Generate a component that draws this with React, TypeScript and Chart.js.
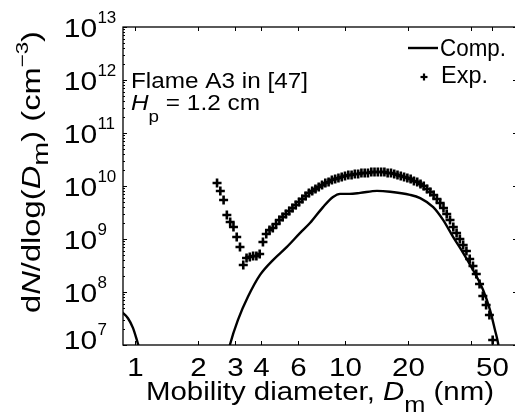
import React, { useEffect, useRef } from 'react';
import { Chart, registerables } from 'chart.js';

Chart.register(...registerables);

const FONT = '"Liberation Sans", Arial, Helvetica, sans-serif';

// Experimental data (SMPS channels), mobility diameter in nm
const expDiameters = [
  2.459, 2.549, 2.642, 2.738, 2.84, 2.944, 3.051, 3.162, 3.278, 3.398,
  3.522, 3.652, 3.785, 3.924, 4.067, 4.217, 4.371, 4.531, 4.697, 4.87,
  5.048, 5.233, 5.425, 5.623, 5.829, 6.043, 6.264, 6.494, 6.732, 6.978,
  7.234, 7.499, 7.774, 8.058, 8.354, 8.66, 8.977, 9.306, 9.647, 10.0,
  10.37, 10.75, 11.14, 11.55, 11.97, 12.41, 12.86, 13.34, 13.82, 14.33,
  14.86, 15.4, 15.96, 16.55, 17.15, 17.78, 18.43, 19.11, 19.81, 20.54,
  21.29, 22.07, 22.88, 23.71, 24.58, 25.48, 26.42, 27.38, 28.39, 29.43,
  30.5, 31.62, 32.78, 33.98, 35.22, 36.52, 37.85, 39.24, 40.67, 42.17,
  43.71, 45.31, 46.97, 48.7, 50.48,
];
const expConcentrations = [
  1.14e10, 8.05e9, 5.44e9, 2.84e9, 2.09e9, 1.68e9, 1.09e9, 7.06e8, 3.23e8, 4.38e8,
  4.57e8, 4.78e8, 4.78e8, 5.21e8, 8.78e8, 1.24e9, 1.48e9, 1.61e9, 1.92e9, 2.28e9,
  2.6e9, 2.96e9, 3.37e9, 3.85e9, 4.38e9, 4.99e9, 5.69e9, 6.48e9, 7.38e9, 8.05e9,
  8.78e9, 9.57e9, 1.04e10, 1.14e10, 1.19e10, 1.3e10, 1.36e10, 1.42e10, 1.48e10, 1.55e10,
  1.61e10, 1.61e10, 1.68e10, 1.68e10, 1.76e10, 1.76e10, 1.76e10, 1.84e10, 1.84e10, 1.84e10,
  1.84e10, 1.84e10, 1.76e10, 1.76e10, 1.68e10, 1.61e10, 1.55e10, 1.48e10, 1.42e10, 1.36e10,
  1.24e10, 1.19e10, 1.09e10, 1.0e10, 8.78e9, 7.71e9, 6.76e9, 5.69e9, 4.78e9, 3.85e9,
  2.96e9, 2.28e9, 1.68e9, 1.3e9, 1.0e9, 7.71e8, 5.94e8, 4.2e8, 3.1e8, 2.19e8,
  1.42e8, 8.41e7, 5.69e7, 3.68e7, 1.24e7,
];

// Computed curve (two branches separated by a gap)
const compDiameters = [
  0.85, 0.877, 0.926, 0.978, 1.03, 1.06, 1.09,
  2.0,
  2.72, 2.83, 3.09, 3.45, 3.94, 4.54, 5.29, 6.1, 6.81, 7.86, 8.77, 9.47,
  10.5, 11.8, 14.2, 16.4, 20.4, 22.8, 26.3, 29.3, 32.7, 36.5, 40.7, 45.4,
  49.0, 51.8, 53.5, 54.6,
];
const compConcentrations = [
  4.4e7, 4.0e7, 3.2e7, 2.1e7, 1.1e7, 7.5e6, 5e6,
  null,
  5e6, 1.0e7, 2.95e7, 8.1e7, 2.1e8, 4.0e8, 7.1e8, 1.29e9, 2.0e9, 4.0e9, 6.2e9, 7.1e9,
  7.1e9, 7.4e9, 8.1e9, 7.8e9, 6.8e9, 5.9e9, 4.0e9, 2.3e9, 1.1e9, 5.5e8, 2.6e8, 1.1e8,
  4.6e7, 1.9e7, 1.1e7, 6e6,
];

const xTickValues = [1, 2, 3, 4, 6, 10, 20, 40, 50];
const xTickLabels = ['1', '2', '3', '4', '6', '10', '20', '', '50'];
const yTickExponents = [7, 8, 9, 10, 11, 12, 13];
const xRange = [0.877, 65.9];
const yRange = [1e7, 1e13];
const legendLabels = ['Comp.', 'Exp.'];
const annotationLine1 = 'Flame A3 in [47]';
const annotationLine2 = ['H', 'p', ' = 1.2 cm'];

type Part = { t: string; size: number; italic?: boolean; dy?: number };

function setFont(ctx: CanvasRenderingContext2D, p: Part) {
  ctx.font = `${p.italic ? 'italic ' : ''}${p.size}px ${FONT}`;
}
function measureParts(ctx: CanvasRenderingContext2D, parts: Part[]) {
  let w = 0;
  for (const p of parts) {
    setFont(ctx, p);
    w += ctx.measureText(p.t).width;
  }
  return w;
}
function drawParts(
  ctx: CanvasRenderingContext2D,
  parts: Part[],
  x: number,
  y: number,
  o: { align?: 'left' | 'center' | 'right'; scale?: number; width?: number; rotate?: boolean } = {}
) {
  const nat = measureParts(ctx, parts);
  const s = o.width ? o.width / nat : o.scale ?? 1;
  ctx.save();
  ctx.translate(x, y);
  if (o.rotate) ctx.rotate(-Math.PI / 2);
  ctx.scale(s, 1);
  let cx = o.align === 'center' ? -nat / 2 : o.align === 'right' ? -nat : 0;
  ctx.textAlign = 'left';
  ctx.textBaseline = 'alphabetic';
  ctx.fillStyle = '#000';
  for (const p of parts) {
    setFont(ctx, p);
    ctx.fillText(p.t, cx, p.dy || 0);
    cx += ctx.measureText(p.t).width;
  }
  ctx.restore();
}

const decorPlugin = {
  id: 'decor',
  beforeDraw(chart: any) {
    const ctx = chart.ctx as CanvasRenderingContext2D;
    ctx.save();
    ctx.fillStyle = '#fff';
    ctx.fillRect(0, 0, chart.width, chart.height);
    ctx.restore();
  },
  afterDraw(chart: any) {
    const ctx = chart.ctx as CanvasRenderingContext2D;
    const { left, right, top, bottom } = chart.chartArea;
    const xs = chart.scales.x;
    const ys = chart.scales.y;
    ctx.save();
    ctx.strokeStyle = '#000';
    ctx.lineWidth = 1.3;
    ctx.strokeRect(left, top, right - left, bottom - top);
    const seg = (x1: number, y1: number, x2: number, y2: number) => {
      ctx.beginPath();
      ctx.moveTo(x1, y1);
      ctx.lineTo(x2, y2);
      ctx.stroke();
    };
    ctx.lineWidth = 1;
    // x ticks
    xTickValues.forEach((v, i) => {
      const px = Math.round(xs.getPixelForValue(v)) + 0.5;
      seg(px, bottom, px, bottom - 4);
      seg(px, top, px, top + 4);
      if (xTickLabels[i]) {
        drawParts(ctx, [{ t: xTickLabels[i], size: 25 }], px, 376, { align: 'center', scale: 1.18 });
      }
    });
    // y ticks
    yTickExponents.forEach((e, i) => {
      const py = Math.round(ys.getPixelForValue(Math.pow(10, e))) + 0.5;
      seg(left, py, left + 4, py);
      seg(right, py, right - 4, py);
      if (i < yTickExponents.length - 1) {
        for (let m = 2; m <= 9; m++) {
          const pm = Math.round(ys.getPixelForValue(m * Math.pow(10, e))) + 0.5;
          seg(left, pm, left + 2, pm);
          seg(right, pm, right - 2, pm);
        }
      }
      const base = i === 0 ? py + 3 : py + 9;
      drawParts(ctx, [{ t: '10', size: 25 }], 63.7, base, { scale: 1.2 });
      drawParts(ctx, [{ t: String(e), size: 16.5 }], 97.4, base - 14, { scale: 1.03 });
    });
    // x axis title
    drawParts(
      ctx,
      [
        { t: 'Mobility diameter, ', size: 25.5 },
        { t: 'D', size: 25.5, italic: true },
        { t: 'm', size: 22, dy: 12 },
        { t: ' (nm)', size: 25.5 },
      ],
      146,
      400,
      { width: 348 }
    );
    // y axis title
    drawParts(
      ctx,
      [
        { t: 'd', size: 25 },
        { t: 'N', size: 25, italic: true },
        { t: '/dlog(', size: 25 },
        { t: 'D', size: 25, italic: true },
        { t: 'm', size: 22, dy: 8 },
        { t: ') (cm', size: 25 },
        { t: '\u22123', size: 17, dy: -12 },
        { t: ')', size: 25 },
      ],
      40,
      313,
      { rotate: true, width: 282 }
    );
    // annotation
    drawParts(ctx, [{ t: annotationLine1, size: 22 }], 131, 88, { width: 177 });
    drawParts(
      ctx,
      [
        { t: annotationLine2[0], size: 22, italic: true },
        { t: annotationLine2[1], size: 17, dy: 12 },
        { t: annotationLine2[2], size: 22 },
      ],
      131,
      110,
      { width: 129 }
    );
    // legend
    ctx.lineWidth = 2.4;
    seg(408, 48, 438, 48);
    drawParts(ctx, [{ t: legendLabels[0], size: 24 }], 440, 56, { width: 66 });
    ctx.lineWidth = 2.2;
    seg(420.5, 77, 427.5, 77);
    seg(424, 73.5, 424, 80.5);
    drawParts(ctx, [{ t: legendLabels[1], size: 23 }], 441, 83, { width: 47 });
    ctx.restore();
  },
};

export default function App() {
  const ref = useRef<HTMLCanvasElement | null>(null);
  useEffect(() => {
    const canvas = ref.current;
    if (!canvas) return;
    document.documentElement.style.overflow = 'hidden';
    document.body.style.overflow = 'hidden';
    const W = 525;
    const H = 415;
    const chart = new Chart(canvas, {
      type: 'line',
      data: {
        datasets: [
          {
            label: legendLabels[0],
            data: compDiameters.map((x, i) => ({ x, y: compConcentrations[i] })) as any,
            borderColor: '#000',
            borderWidth: 2.4,
            pointRadius: 0,
            fill: false,
            cubicInterpolationMode: 'monotone',
            spanGaps: false,
            clip: 0,
          } as any,
          {
            label: legendLabels[1],
            data: expDiameters.map((x, i) => ({ x, y: expConcentrations[i] })) as any,
            showLine: false,
            pointStyle: 'cross',
            pointRadius: 4.5,
            pointBorderWidth: 2.6,
            borderColor: '#000',
            pointBorderColor: '#000',
            clip: false,
          } as any,
        ],
      },
      options: {
        responsive: false,
        animation: false,
        events: [],
        layout: { padding: { left: 123, top: 27, right: W - 517, bottom: H - 345 } },
        plugins: { legend: { display: false }, tooltip: { enabled: false } },
        scales: {
          x: { type: 'logarithmic', min: xRange[0], max: xRange[1], display: false },
          y: { type: 'logarithmic', min: yRange[0], max: yRange[1], display: false },
        },
      } as any,
      plugins: [decorPlugin as any],
    });
    return () => chart.destroy();
  }, []);
  return (
    <canvas
      ref={ref}
      width={525}
      height={415}
      style={{ position: 'fixed', left: 0, top: 0, width: 525, height: 415 }}
    />
  );
}
